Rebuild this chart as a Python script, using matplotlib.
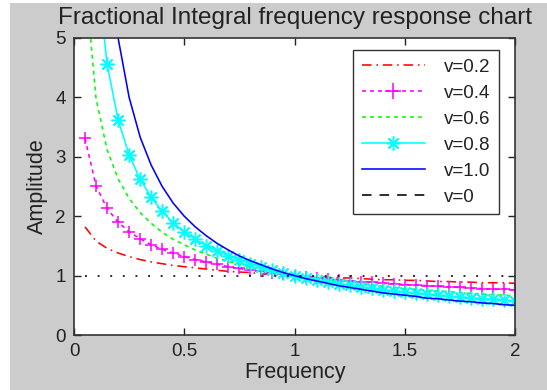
import numpy as np
import matplotlib
matplotlib.use("Agg")
import matplotlib.pyplot as plt
from matplotlib.lines import Line2D
from matplotlib.patches import Rectangle

# frequency samples (0.05 .. 2.0, step 0.05)
freq = [0.05, 0.10, 0.15, 0.20, 0.25, 0.30, 0.35, 0.40, 0.45, 0.50,
        0.55, 0.60, 0.65, 0.70, 0.75, 0.80, 0.85, 0.90, 0.95, 1.00,
        1.05, 1.10, 1.15, 1.20, 1.25, 1.30, 1.35, 1.40, 1.45, 1.50,
        1.55, 1.60, 1.65, 1.70, 1.75, 1.80, 1.85, 1.90, 1.95, 2.00]

amp_v02 = [1.82, 1.58, 1.46, 1.38, 1.32, 1.27, 1.23, 1.20, 1.17, 1.15,
           1.13, 1.11, 1.09, 1.07, 1.06, 1.05, 1.03, 1.02, 1.01, 1.00,
           0.99, 0.98, 0.97, 0.96, 0.96, 0.95, 0.94, 0.93, 0.93, 0.92,
           0.92, 0.91, 0.90, 0.90, 0.89, 0.89, 0.88, 0.88, 0.88, 0.87]
amp_v04 = [3.31, 2.51, 2.13, 1.90, 1.74, 1.62, 1.52, 1.44, 1.38, 1.32,
           1.27, 1.23, 1.19, 1.15, 1.12, 1.09, 1.07, 1.04, 1.02, 1.00,
           0.98, 0.96, 0.95, 0.93, 0.91, 0.90, 0.89, 0.87, 0.86, 0.85,
           0.84, 0.83, 0.82, 0.81, 0.80, 0.79, 0.78, 0.77, 0.77, 0.76]
amp_v06 = [6.03, 3.98, 3.12, 2.63, 2.30, 2.06, 1.88, 1.73, 1.61, 1.52,
           1.43, 1.36, 1.29, 1.24, 1.19, 1.14, 1.10, 1.07, 1.03, 1.00,
           0.97, 0.94, 0.92, 0.90, 0.87, 0.85, 0.84, 0.82, 0.80, 0.78,
           0.77, 0.75, 0.74, 0.73, 0.71, 0.70, 0.69, 0.68, 0.67, 0.66]
amp_v08 = [10.99, 6.31, 4.56, 3.62, 3.03, 2.62, 2.32, 2.08, 1.89, 1.74,
           1.61, 1.50, 1.41, 1.33, 1.26, 1.20, 1.14, 1.09, 1.04, 1.00,
           0.96, 0.93, 0.89, 0.86, 0.84, 0.81, 0.79, 0.76, 0.74, 0.72,
           0.70, 0.69, 0.67, 0.65, 0.64, 0.62, 0.61, 0.60, 0.59, 0.57]
amp_v10 = [20.0, 10.0, 6.67, 5.00, 4.00, 3.33, 2.86, 2.50, 2.22, 2.00,
           1.82, 1.67, 1.54, 1.43, 1.33, 1.25, 1.18, 1.11, 1.05, 1.00,
           0.95, 0.91, 0.87, 0.83, 0.80, 0.77, 0.74, 0.71, 0.69, 0.67,
           0.65, 0.62, 0.61, 0.59, 0.57, 0.56, 0.54, 0.53, 0.51, 0.50]
amp_v0 = [1.0] * 40

labels = ["v=0.2", "v=0.4", "v=0.6", "v=0.8", "v=1.0", "v=0"]

plt.rcParams['font.family'] = ['Liberation Sans', 'DejaVu Sans']

fig = plt.figure(figsize=(5.47, 3.90), dpi=100)
fig.patch.set_facecolor("white")
# matlab style grey window, with a thin white strip on the left
fig.patches.append(Rectangle((10 / 547, 0), 1, 1 - 3 / 390, transform=fig.transFigure,
                             facecolor="#cccccc", edgecolor="none", zorder=-10))

ax = fig.add_axes([74 / 547, 1 - 335 / 390, 441 / 547, 297 / 390])
ax.set_facecolor("white")

lw = 1.15
ax.plot(freq, amp_v02, color="red", lw=lw, dashes=(6, 3, 1, 3))
ax.plot(freq, amp_v04, color="magenta", lw=lw, dashes=(2.5, 2.5),
        marker="+", ms=9, mew=1.1)
ax.plot(freq, amp_v06, color="#00ff00", lw=lw, dashes=(2.5, 2.5))
ax.plot(freq, amp_v08, color="cyan", lw=lw, marker=(8, 2, 0), ms=10, mew=1.1)
ax.plot(freq, amp_v10, color="blue", lw=lw)
ax.plot(freq, amp_v0, color="black", lw=lw, dashes=(1.2, 6.7))

ax.set_xlim(0, 2)
ax.set_ylim(0, 5)
ax.set_xticks([0, 0.5, 1, 1.5, 2])
ax.set_xticklabels(["0", "0.5", "1", "1.5", "2"])
ax.set_yticks([0, 1, 2, 3, 4, 5])
ax.tick_params(direction="in", top=True, right=True, length=5, width=1.0,
               labelsize=13.5, colors="#222222", pad=6)
for sp in ax.spines.values():
    sp.set_color("#333333")
    sp.set_linewidth(1.2)

ax.set_title("Fractional Integral frequency response chart", fontsize=17.5,
             color="#222222", pad=10)
ax.set_xlabel("Frequency", fontsize=15.5, color="#222222", labelpad=1)
ax.set_ylabel("Amplitude", fontsize=15.5, color="#222222", labelpad=5)

# legend entries use the pattern of each style (matlab look)
handles = [
    Line2D([], [], color="red", lw=lw, dashes=(6, 3, 1, 3)),
    Line2D([], [], color="magenta", lw=lw, dashes=(2.5, 2.5), marker="+", ms=11, mew=1.1),
    Line2D([], [], color="#00ff00", lw=lw, dashes=(2.5, 2.5)),
    Line2D([], [], color="cyan", lw=lw, marker=(8, 2, 0), ms=10, mew=1.1),
    Line2D([], [], color="blue", lw=lw),
    Line2D([], [], color="black", lw=lw, dashes=(6, 5)),
]
leg = ax.legend(handles, labels, loc="upper right", bbox_to_anchor=(0.985, 0.99),
                fontsize=13.5, handlelength=3.4, handletextpad=1.0,
                labelspacing=0.47, borderpad=0.45, fancybox=False,
                framealpha=1, edgecolor="#333333", markerscale=1)
leg.get_frame().set_linewidth(1.0)
for t in leg.get_texts():
    t.set_color("#222222")

fig.savefig("out.png", dpi=100, facecolor=fig.get_facecolor())
